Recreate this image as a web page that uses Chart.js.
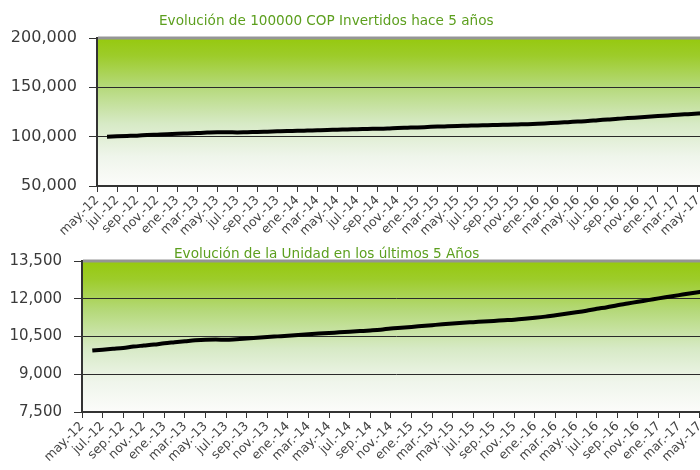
<!DOCTYPE html>
<html>
<head>
<meta charset="utf-8">
<script src="https://cdn.jsdelivr.net/npm/chart.js@4"></script>
<style>
  html, body { margin: 0; padding: 0; background: #fff; }
  body { width: 700px; height: 470px; overflow: hidden; position: relative; }
  canvas { position: absolute; left: 0; }
  #topChart { top: 0; }
  #unitChart { top: 240px; }
  .title {
    position: absolute; font-family: "DejaVu Sans", sans-serif; font-size: 13.6px;
    color: #5c9f1e; white-space: nowrap; line-height: 16px;
  }
  #topTitle { left: 159px; top: 12px; }
  #unitTitle { left: 174px; top: 245px; }
</style>
</head>
<body>
<canvas id="topChart" width="720" height="245"></canvas>
<canvas id="unitChart" width="720" height="230"></canvas>
<div class="title" id="topTitle">Evolución de 100000 COP Invertidos hace 5 años</div>
<div class="title" id="unitTitle">Evolución de la Unidad en los últimos 5 Años</div>
<script>
// meses, de may.-12 a jun.-17 (solo se rotulan los pares)
const months = [
  'may.-12','jun.-12','jul.-12','ago.-12','sep.-12','oct.-12','nov.-12','dic.-12',
  'ene.-13','feb.-13','mar.-13','abr.-13','may.-13','jun.-13','jul.-13','ago.-13','sep.-13','oct.-13','nov.-13','dic.-13',
  'ene.-14','feb.-14','mar.-14','abr.-14','may.-14','jun.-14','jul.-14','ago.-14','sep.-14','oct.-14','nov.-14','dic.-14',
  'ene.-15','feb.-15','mar.-15','abr.-15','may.-15','jun.-15','jul.-15','ago.-15','sep.-15','oct.-15','nov.-15','dic.-15',
  'ene.-16','feb.-16','mar.-16','abr.-16','may.-16','jun.-16','jul.-16','ago.-16','sep.-16','oct.-16','nov.-16','dic.-16',
  'ene.-17','feb.-17','mar.-17','abr.-17','may.-17','jun.-17'
];

// valor de 100000 COP invertidos
const investValues = [
  null, 100000, 100350, 100700, 101050, 101600, 102000, 102400,
  102900, 103300, 103700, 104100, 104400, 104400, 104300, 104600, 104800, 105100, 105400, 105700,
  105900, 106200, 106500, 106800, 107000, 107300, 107500, 107800, 108000, 108300, 108800, 109100,
  109400, 109800, 110200, 110500, 110800, 111100, 111400, 111600, 111900, 112100, 112400, 112700,
  113100, 113600, 114100, 114700, 115300, 115900, 116700, 117400, 118200, 118800, 119500, 120200,
  120900, 121500, 122200, 122800, 123400, 124000
];

// valor de la unidad
const unitValues = [
  null, 9940, 9975, 10010, 10045, 10100, 10140, 10180,
  10230, 10270, 10310, 10350, 10375, 10380, 10370, 10395, 10420, 10450, 10480, 10505,
  10530, 10560, 10590, 10615, 10640, 10665, 10690, 10715, 10740, 10770, 10820, 10850,
  10880, 10915, 10950, 10985, 11015, 11045, 11070, 11095, 11120, 11145, 11170, 11205,
  11245, 11290, 11345, 11400, 11460, 11525, 11600, 11665, 11745, 11810, 11880, 11945,
  12015, 12080, 12145, 12210, 12270, 12330
];

const investTicks = { min: 50000, max: 200000, step: 50000 };
const unitTicks = { min: 7500, max: 13500, step: 1500 };

const FONT = '"DejaVu Sans", sans-serif';

const plotBackground = {
  id: 'plotBackground',
  beforeDraw(chart) {
    const { ctx, chartArea: a } = chart;
    const g = ctx.createLinearGradient(0, a.top, 0, a.bottom);
    g.addColorStop(0, '#96c90e');
    g.addColorStop(0.12, '#9dcc2a');
    g.addColorStop(0.33, '#b5d97a');
    g.addColorStop(0.58, '#d7eac6');
    g.addColorStop(0.8, '#eff5eb');
    g.addColorStop(1, '#fcfcfa');
    ctx.save();
    ctx.fillStyle = g;
    ctx.fillRect(a.left, a.top, a.right - a.left, a.bottom - a.top);
    ctx.restore();
  },
  afterDraw(chart) {
    const { ctx, chartArea: a } = chart;
    ctx.save();
    ctx.strokeStyle = '#959595';
    ctx.lineWidth = 3;
    ctx.beginPath();
    ctx.moveTo(a.left + 1, a.top);
    ctx.lineTo(a.right + 20, a.top);
    ctx.stroke();
    ctx.restore();
  }
};

function makeChart(id, values, range, opts) {
  return new Chart(document.getElementById(id), {
    type: 'line',
    data: {
      labels: months,
      datasets: [{
        data: values,
        borderColor: '#000',
        borderWidth: 4,
        pointRadius: 0,
        tension: 0.4,
        cubicInterpolationMode: 'monotone',
        fill: false
      }]
    },
    options: {
      responsive: false,
      animation: false,
      devicePixelRatio: 1,
      layout: { padding: { top: opts.top, right: opts.right, left: 0, bottom: 0 } },
      plugins: { legend: { display: false }, tooltip: { enabled: false } },
      scales: {
        x: {
          type: 'category',
          offset: false,
          afterFit: s => { s.height = opts.xHeight; },
          grid: { drawOnChartArea: false, tickLength: 6, color: '#333', lineWidth: 1 },
          border: { color: '#333', width: 2 },
          ticks: {
            autoSkip: false,
            minRotation: 45,
            maxRotation: 45,
            padding: 1,
            color: '#444',
            font: { family: FONT, size: 12.5 },
            callback: (v, i) => (i % 2 === 0 ? months[i] : null)
          }
        },
        y: {
          min: range.min,
          max: range.max,
          afterFit: s => { s.width = opts.yWidth; },
          grid: { color: '#2a2a2a', lineWidth: 1, tickLength: 8, tickColor: '#333' },
          border: { color: '#333', width: 2 },
          ticks: {
            stepSize: range.step,
            padding: 12,
            color: '#3a3a3a',
            font: { family: FONT, size: opts.yFont },
            callback: v => v.toLocaleString('en-US')
          }
        }
      }
    },
    plugins: [plotBackground]
  });
}

makeChart('topChart', investValues, investTicks, { top: 38, right: 12, xHeight: 59, yWidth: 97, yFont: 16 });
makeChart('unitChart', unitValues, unitTicks, { top: 21, right: 10, xHeight: 58, yWidth: 82, yFont: 15 });
</script>
</body>
</html>
